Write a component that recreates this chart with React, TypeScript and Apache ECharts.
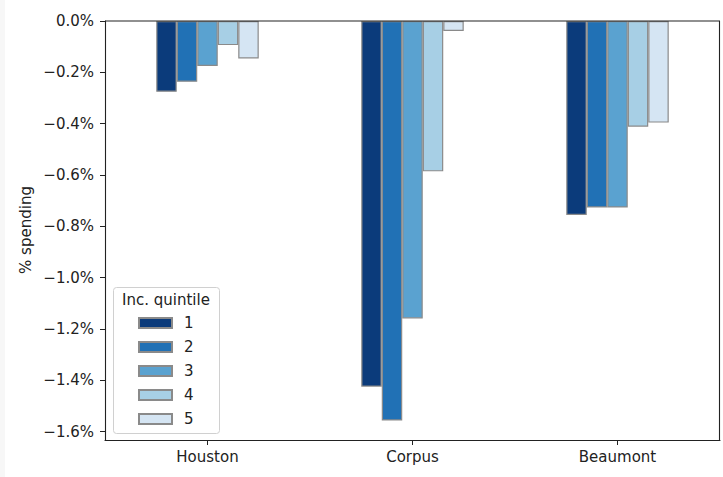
import React, { useEffect, useRef } from "react";
import * as echarts from "echarts";

const cities = ["Houston", "Corpus", "Beaumont"];
const quintiles = ["1", "2", "3", "4", "5"];
const q1 = [-0.276, -1.425, -0.756];
const q2 = [-0.237, -1.557, -0.727];
const q3 = [-0.175, -1.159, -0.727];
const q4 = [-0.094, -0.586, -0.412];
const q5 = [-0.146, -0.039, -0.396];
const seriesValues = [q1, q2, q3, q4, q5];
const colors = ["#0b3b7b", "#2171b5", "#5aa2d0", "#a7cfe5", "#d5e5f3"];
const yTicks = [0, -0.2, -0.4, -0.6, -0.8, -1.0, -1.2, -1.4, -1.6];

const FONT = "DejaVu Sans";

function fmt(v: number): string {
  if (Math.abs(v) < 1e-9) return "0.0%";
  return (v < 0 ? "\u2212" : "") + Math.abs(v).toFixed(1) + "%";
}

export default function App() {
  const ref = useRef<HTMLDivElement>(null);
  useEffect(() => {
    document.body.style.margin = "0";
    const chart = echarts.init(ref.current!, null, { renderer: "svg" });
    chart.setOption({
      animation: false,
      backgroundColor: "#ffffff",
      grid: { left: 105, top: 21, right: 3, bottom: 37, containLabel: false },
      xAxis: {
        type: "category",
        data: cities,
        boundaryGap: true,
        axisLine: { show: true, onZero: false, lineStyle: { color: "#222", width: 1.1 } },
        axisTick: { show: true, alignWithLabel: true, length: 5, lineStyle: { color: "#222" } },
        axisLabel: { color: "#222", fontFamily: FONT, fontSize: 15, margin: 9 },
        splitLine: { show: false },
      },
      yAxis: {
        type: "value",
        min: -1.633,
        max: 0,
        axisLine: { show: true, lineStyle: { color: "#222", width: 1.1 } },
        axisTick: { show: true, length: 5, customValues: yTicks, lineStyle: { color: "#222" } },
        axisLabel: {
          color: "#222",
          fontFamily: FONT,
          fontSize: 15,
          margin: 11,
          customValues: yTicks,
          formatter: (v: number) => fmt(v),
        },
        splitLine: { show: false },
      },
      legend: {
        data: quintiles,
        orient: "vertical",
        left: 138,
        top: 315.5,
        padding: 0,
        itemWidth: 33,
        itemHeight: 10,
        itemGap: 9,
        icon: "rect",
        z: 20,
        inactiveColor: "#222",
        textStyle: { color: "#222", fontFamily: FONT, fontSize: 15, padding: [0, 0, 0, 7] },
      },
      graphic: [
        { type: "rect", left: 0, top: 0, shape: { width: 5, height: 477 }, style: { fill: "#f7f7f7" }, silent: true },
        {
          type: "rect",
          shape: { x: 113.5, y: 287.5, width: 106, height: 146, r: 3 },
          style: { fill: "#ffffff", stroke: "#d0d0d0", lineWidth: 1 },
          z: 1,
          silent: true,
        },
        {
          type: "text",
          x: 166,
          y: 300,
          style: {
            text: "Inc. quintile",
            fill: "#222",
            font: `15px "${FONT}"`,
            textAlign: "center",
            textVerticalAlign: "middle",
          },
          z: 6,
        },
        {
          type: "text",
          x: 26,
          y: 230,
          rotation: Math.PI / 2,
          style: {
            text: "% spending",
            fill: "#222",
            font: `15px "${FONT}"`,
            textAlign: "center",
            textVerticalAlign: "middle",
          },
        },
        {
          type: "line",
          shape: { x1: 105, y1: 21, x2: 720, y2: 21 },
          style: { stroke: "#222", lineWidth: 1.1 },
          z: 10,
        },
        {
          type: "line",
          shape: { x1: 719.5, y1: 21, x2: 719.5, y2: 440 },
          style: { stroke: "#222", lineWidth: 1.1 },
          z: 10,
        },
      ],
      series: seriesValues.map((vals, i) => ({
        name: quintiles[i],
        type: "bar",
        data: vals,
        barWidth: "10%",
        barGap: "0%",
        itemStyle: { color: colors[i], borderColor: "#8a8a8a", borderWidth: 1.2 },
        emphasis: { disabled: true },
      })),
    });
    return () => chart.dispose();
  }, []);
  return <div ref={ref} style={{ width: 723, height: 477 }} />;
}
